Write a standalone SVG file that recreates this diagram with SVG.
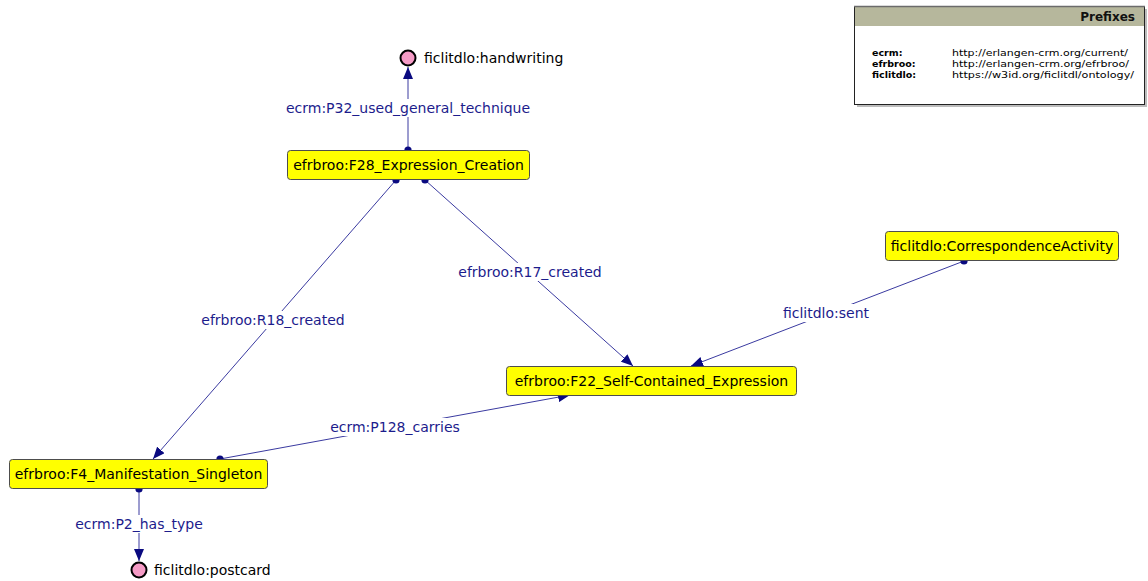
<svg xmlns="http://www.w3.org/2000/svg" width="1148" height="581" viewBox="0 0 1148 581">
  <style>
    .cls rect { fill: #ffff00; stroke: #4d4d4d; stroke-width: 1; }
    .cls text { font-family: "DejaVu Sans", sans-serif; font-size: 14px; fill: #000; text-anchor: middle; }
    .ind circle { fill: #f59bc6; stroke: #000; stroke-width: 2; }
    .ind text { font-family: "DejaVu Sans", sans-serif; font-size: 14px; fill: #000; }
    .edge line { stroke: #3a3aa0; stroke-width: 1; marker-start: url(#dot); marker-end: url(#arrow); }
    .lbl rect { fill: #fff; }
    .lbl text { font-family: "DejaVu Sans", sans-serif; font-size: 14px; fill: #1c1c8c; text-anchor: middle; }
    .pfx { font-family: "DejaVu Sans", sans-serif; font-size: 9.5px; fill: #000; }
    .pfx-b { font-weight: bold; }
    .pfx-title { font-family: "DejaVu Sans", sans-serif; font-size: 12px; font-weight: bold; fill: #111; text-anchor: end; }
  </style>
  <defs>
    <marker id="arrow" markerUnits="userSpaceOnUse" viewBox="0 0 12 10" refX="12" refY="5" markerWidth="12" markerHeight="10" orient="auto">
      <path d="M0,0 L12,5 L0,10 z" fill="#0a0a80"/>
    </marker>
    <marker id="dot" markerUnits="userSpaceOnUse" viewBox="0 0 8 8" refX="4" refY="4" markerWidth="8" markerHeight="8">
      <circle cx="4" cy="4" r="3.6" fill="#0a0a80"/>
    </marker>
  </defs>
  <rect width="1148" height="581" fill="#fff"/>

  <!-- prefix legend -->
  <g id="prefixes">
    <rect x="857" y="9" width="290" height="98" fill="#bcbcbc"/>
    <rect x="854.5" y="6.5" width="290" height="98" fill="#fff" stroke="#222" stroke-width="1"/>
    <rect x="855" y="7" width="289" height="19" fill="#b6b79c"/>
    <line x1="854" y1="6.5" x2="1145" y2="6.5" stroke="#6b6b6b" stroke-width="1.5"/>
    <text x="1135" y="21" class="pfx-title">Prefixes</text>
    <text x="872" y="56" class="pfx pfx-b">ecrm:</text>
    <text x="872" y="67" class="pfx pfx-b">efrbroo:</text>
    <text x="872" y="78" class="pfx pfx-b">ficlitdlo:</text>
    <text x="952" y="56" class="pfx" textLength="176" lengthAdjust="spacingAndGlyphs">http://erlangen-crm.org/current/</text>
    <text x="952" y="67" class="pfx" textLength="177" lengthAdjust="spacingAndGlyphs">http://erlangen-crm.org/efrbroo/</text>
    <text x="952" y="78" class="pfx" textLength="182" lengthAdjust="spacingAndGlyphs">https://w3id.org/ficlitdl/ontology/</text>
  </g>

  <!-- connectors -->
  <g id="edges">
    <g class="edge">
      <line x1="408" y1="150" x2="408" y2="67"/>
      <line x1="396" y1="180" x2="153" y2="459"/>
      <line x1="425" y1="180" x2="633" y2="366"/>
      <line x1="964" y1="261" x2="691" y2="366"/>
      <line x1="220" y1="459" x2="570" y2="395"/>
      <line x1="139" y1="489" x2="139" y2="561"/>
    </g>
    <g class="lbl">
      <rect x="286" y="99" width="244" height="18"/>
      <text x="408" y="113">ecrm:P32_used_general_technique</text>
      <rect x="201" y="311" width="145" height="18"/>
      <text x="273" y="325">efrbroo:R18_created</text>
      <rect x="458" y="263" width="145" height="18"/>
      <text x="530" y="277">efrbroo:R17_created</text>
      <rect x="781" y="304" width="90" height="18"/>
      <text x="826" y="318">ficlitdlo:sent</text>
      <rect x="330" y="418" width="130" height="18"/>
      <text x="395" y="432">ecrm:P128_carries</text>
      <rect x="76" y="515" width="126" height="18"/>
      <text x="139" y="529">ecrm:P2_has_type</text>
    </g>
  </g>

  <!-- class nodes -->
  <g id="node-f28" class="cls">
    <rect x="287.5" y="150.5" width="242" height="29" rx="3"/>
    <text x="408.5" y="170">efrbroo:F28_Expression_Creation</text>
  </g>
  <g id="node-f22" class="cls">
    <rect x="506.5" y="366.5" width="290" height="29" rx="3"/>
    <text x="651.5" y="386">efrbroo:F22_Self-Contained_Expression</text>
  </g>
  <g id="node-corr" class="cls">
    <rect x="885.5" y="231.5" width="233" height="29" rx="3"/>
    <text x="1002" y="251">ficlitdlo:CorrespondenceActivity</text>
  </g>
  <g id="node-f4" class="cls">
    <rect x="9.5" y="459.5" width="258" height="29" rx="3"/>
    <text x="138.5" y="479">efrbroo:F4_Manifestation_Singleton</text>
  </g>

  <!-- individuals -->
  <g id="node-handwriting" class="ind">
    <circle cx="408" cy="58" r="7.5"/>
    <text x="424" y="63">ficlitdlo:handwriting</text>
  </g>
  <g id="node-postcard" class="ind">
    <circle cx="139" cy="570" r="7.5"/>
    <text x="154" y="575">ficlitdlo:postcard</text>
  </g>
</svg>
